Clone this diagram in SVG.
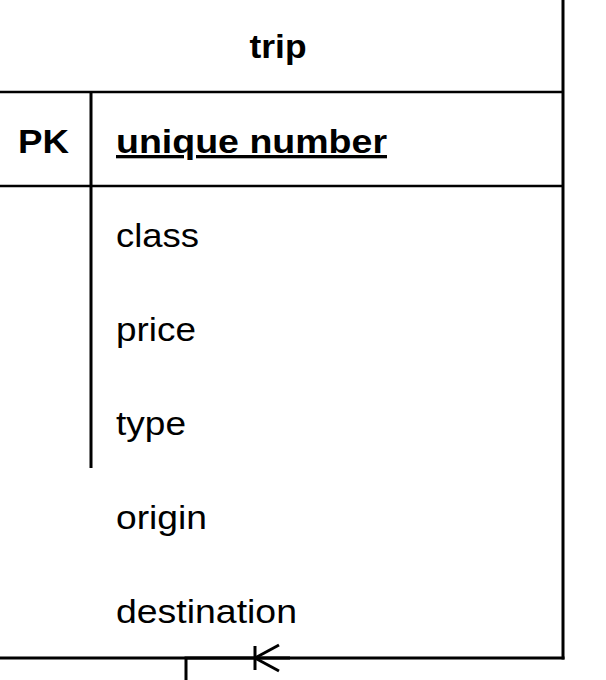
<svg xmlns="http://www.w3.org/2000/svg" width="606" height="680" viewBox="0 0 606 680">
  <style>
    .t { font-family: "Liberation Sans", Arial, sans-serif; font-size: 34px; fill: #000; }
    .b { font-weight: bold; font-size: 33px; }
    .ln { stroke: #000; stroke-width: 3; fill: none; }
    .thin { stroke: #000; stroke-width: 2.5; fill: none; }
  </style>
  <rect width="606" height="680" fill="#fff"/>
  <g id="trip">
    <line class="ln" x1="563" y1="-2" x2="563" y2="659.5"/>
    <line class="ln" x1="-2" y1="658" x2="564.5" y2="658"/>
    <line class="thin" x1="-2" y1="92" x2="563" y2="92"/>
    <line class="thin" x1="-2" y1="186" x2="563" y2="186"/>
    <line class="ln" x1="91" y1="92" x2="91" y2="468"/>
    <text class="t b" x="278" y="58" text-anchor="middle" textLength="57" lengthAdjust="spacingAndGlyphs">trip</text>
    <text class="t b" x="18" y="153" textLength="51" lengthAdjust="spacingAndGlyphs">PK</text>
    <text class="t b" x="116" y="153" text-decoration="underline" textLength="271" lengthAdjust="spacingAndGlyphs">unique number</text>
    <text class="t" x="116" y="247" textLength="83" lengthAdjust="spacingAndGlyphs">class</text>
    <text class="t" x="116" y="341" textLength="80" lengthAdjust="spacingAndGlyphs">price</text>
    <text class="t" x="116" y="435" textLength="70" lengthAdjust="spacingAndGlyphs">type</text>
    <text class="t" x="116" y="529" textLength="91" lengthAdjust="spacingAndGlyphs">origin</text>
    <text class="t" x="116" y="623" textLength="181" lengthAdjust="spacingAndGlyphs">destination</text>
  </g>
  <g id="connectors">
    <polyline class="ln" points="186,682 186,658 290,658"/>
    <line class="ln" x1="255" y1="646" x2="255" y2="670"/>
    <line class="ln" x1="255" y1="658" x2="279" y2="645"/>
    <line class="ln" x1="255" y1="658" x2="279" y2="671"/>
  </g>
</svg>
